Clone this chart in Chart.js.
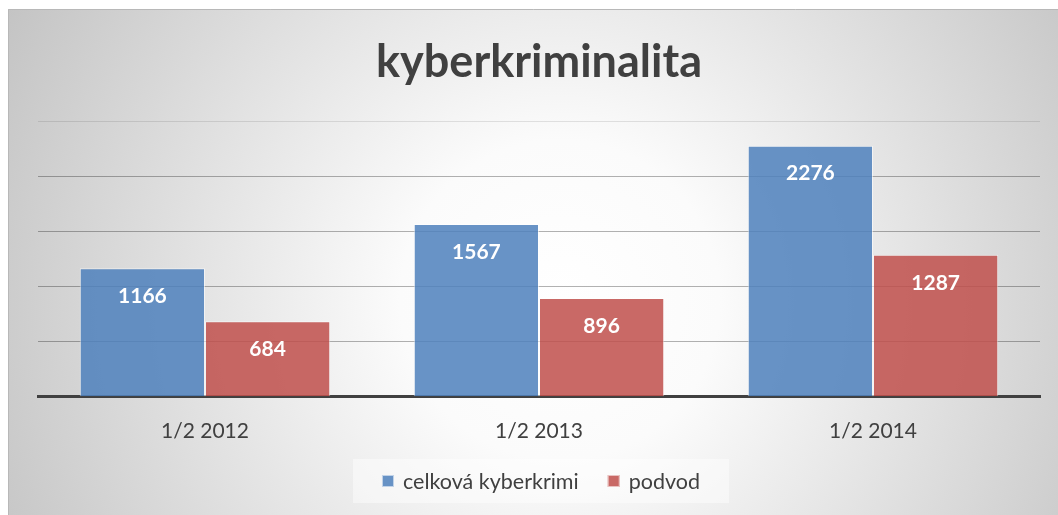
<!DOCTYPE html>
<html>
<head>
<meta charset="utf-8">
<script src="https://cdn.jsdelivr.net/npm/chart.js@4"></script>
<style>
  html, body { margin: 0; padding: 0; background: #fff; }
  #wrap { width: 1058px; height: 515px; position: relative; }
</style>
</head>
<body>
<div id="wrap"><canvas id="c" width="1058" height="515"></canvas></div>
<script>
const categories = ["1/2 2012", "1/2 2013", "1/2 2014"];
const seriesNames = ["celková kyberkrimi", "podvod"];
const celkova = [1166, 1567, 2276];
const podvod = [684, 896, 1287];
const yTicks = [0, 500, 1000, 1500, 2000, 2500];
const titleText = "kyberkriminalita";

const FONT = "Lato, 'Open Sans', sans-serif";

const bgPlugin = {
  id: 'bg',
  beforeDraw(chart) {
    const ctx = chart.ctx;
    const W = chart.width, H = chart.height;
    ctx.save();
    ctx.fillStyle = '#ffffff';
    ctx.fillRect(0, 0, W, H);
    const g = ctx.createRadialGradient(560, 300, 0, 560, 300, 640);
    g.addColorStop(0, '#ffffff');
    g.addColorStop(0.25, '#fbfbfb');
    g.addColorStop(1, '#c2c2c2');
    ctx.fillStyle = g;
    ctx.fillRect(8, 9, W - 8, H - 9);
    ctx.strokeStyle = '#b8b8b8';
    ctx.lineWidth = 1;
    ctx.beginPath();
    ctx.moveTo(8.5, H);
    ctx.lineTo(8.5, 9.5);
    ctx.lineTo(W, 9.5);
    ctx.stroke();
    ctx.restore();
  }
};

// legend drawn as real canvas text from the dataset labels/colours
const legendPlugin = {
  id: 'legendCustom',
  afterDraw(chart) {
    const ctx = chart.ctx;
    const ca = chart.chartArea;
    const cy = 481;
    const box = 12, gapText = 9, gapItem = 29;
    ctx.save();
    ctx.font = "21.5px " + FONT;
    const items = chart.data.datasets.map(ds => ({
      text: ds.label, color: ds.backgroundColor, w: ctx.measureText(ds.label).width
    }));
    let total = 0;
    items.forEach((it, i) => { total += box + gapText + it.w + (i ? gapItem : 0); });
    const cx = (ca.left + ca.right) / 2 + 2;
    // faint backdrop
    ctx.fillStyle = 'rgba(255,255,255,0.45)';
    ctx.fillRect(cx - total / 2 - 29, cy - 22, total + 58, 44);
    let x = cx - total / 2;
    ctx.textBaseline = 'middle';
    ctx.textAlign = 'left';
    items.forEach((it, i) => {
      if (i) x += gapItem;
      ctx.fillStyle = it.color;
      ctx.fillRect(x, cy - 6, box, box);
      ctx.strokeStyle = 'rgba(255,255,255,0.6)';
      ctx.lineWidth = 1;
      ctx.strokeRect(x + 0.5, cy - 5.5, box - 1, box - 1);
      x += box + gapText;
      ctx.fillStyle = '#404040';
      ctx.fillText(it.text, x, cy + 1);
      x += it.w;
    });
    ctx.restore();
  }
};

const labelPlugin = {
  id: 'vals',
  afterDatasetsDraw(chart) {
    const ctx = chart.ctx;
    ctx.save();
    ctx.fillStyle = '#ffffff';
    ctx.font = "bold 21px " + FONT;
    ctx.textAlign = 'center';
    ctx.textBaseline = 'middle';
    chart.data.datasets.forEach((ds, i) => {
      const meta = chart.getDatasetMeta(i);
      meta.data.forEach((el, j) => {
        ctx.fillText(String(ds.data[j]), el.x, el.y + 28);
      });
    });
    ctx.restore();
  }
};

new Chart(document.getElementById('c'), {
  type: 'bar',
  data: {
    labels: categories,
    datasets: [
      {
        label: seriesNames[0],
        data: celkova,
        backgroundColor: 'rgba(79,129,189,0.86)',
        borderColor: 'rgba(255,255,255,0.55)',
        borderWidth: 1
      },
      {
        label: seriesNames[1],
        data: podvod,
        backgroundColor: 'rgba(192,80,77,0.86)',
        borderColor: 'rgba(255,255,255,0.55)',
        borderWidth: 1
      }
    ]
  },
  options: {
    responsive: false,
    animation: false,
    layout: { padding: { left: 38, right: 18, top: 0, bottom: 49 } },
    datasets: { bar: { categoryPercentage: 0.75, barPercentage: 1.0 } },
    plugins: {
      tooltip: { enabled: false },
      legend: { display: false },
      title: {
        display: true,
        text: titleText,
        color: '#404040',
        font: { family: FONT, size: 45, weight: 'bold', lineHeight: 1.2 },
        padding: { top: 35, bottom: 32 }
      }
    },
    scales: {
      x: {
        grid: { display: false, drawTicks: false },
        border: { display: true, color: '#404040', width: 3 },
        ticks: { color: '#404040', font: { family: FONT, size: 21 }, padding: 22 }
      },
      y: {
        min: yTicks[0],
        max: yTicks[yTicks.length - 1],
        afterBuildTicks(scale) { scale.ticks = yTicks.map(v => ({ value: v })); },
        ticks: { display: false },
        border: { display: false },
        grid: {
          drawTicks: false,
          lineWidth: 1,
          color: (c) => c.tick && c.tick.value === 0 ? 'rgba(0,0,0,0)' :
                         (c.tick && c.tick.value === 2500 ? 'rgba(0,0,0,0.1)' : 'rgba(0,0,0,0.3)')
        }
      }
    }
  },
  plugins: [bgPlugin, labelPlugin, legendPlugin]
});
</script>
</body>
</html>
